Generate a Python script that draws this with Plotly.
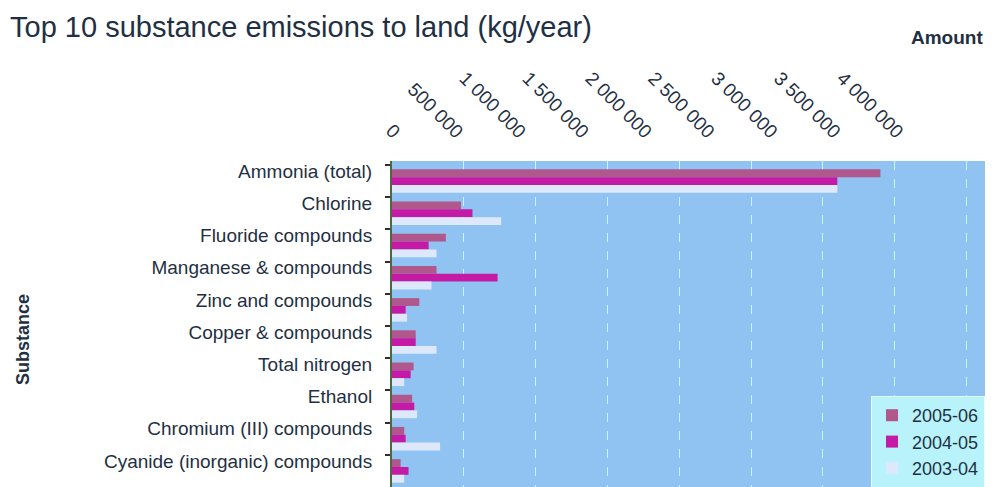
import plotly.graph_objects as go

substances = [
    "Ammonia (total)", "Chlorine", "Fluoride compounds", "Manganese & compounds",
    "Zinc and compounds", "Copper & compounds", "Total nitrogen", "Ethanol",
    "Chromium (III) compounds", "Cyanide (inorganic) compounds",
]
v_2005_06 = [3400000, 480000, 375000, 310000, 190000, 165000, 150000, 140000, 85000, 60000]
v_2004_05 = [3100000, 560000, 255000, 735000, 95000, 165000, 130000, 155000, 95000, 115000]
v_2003_04 = [3100000, 760000, 310000, 275000, 105000, 310000, 85000, 175000, 335000, 85000]

series_names = ["2005-06", "2004-05", "2003-04"]
series_values = [v_2005_06, v_2004_05, v_2003_04]
series_colors = ["#b0588c", "#c41aa6", "#dde9fb"]

tick_vals = [0, 500000, 1000000, 1500000, 2000000, 2500000, 3000000, 3500000, 4000000]
tick_text = ["0", "500 000", "1 000 000", "1 500 000", "2 000 000", "2 500 000",
             "3 000 000", "3 500 000", "4 000 000"]

txt = "#1f3044"
fig = go.Figure()
for name, vals, col in zip(series_names, series_values, series_colors):
    fig.add_trace(go.Bar(y=substances, x=vals, name=name, orientation="h",
                         marker=dict(color=col, line=dict(width=0))))
# invisible anchor trace so the label axis (drawn slightly compressed, as in the source image) exists
fig.add_trace(go.Scatter(x=[tick_vals[0]], y=[substances[0]], xaxis="x2", mode="markers",
                         marker=dict(opacity=0), showlegend=False, hoverinfo="skip"))

W, H = 994, 487
L, R, T, B = 392, 9, 161, 0
pw, ph = W - L - R, H - T - B

fig.update_layout(
    width=W, height=H,
    margin=dict(l=L, r=R, t=T, b=B, pad=0, autoexpand=False),
    paper_bgcolor="white", plot_bgcolor="#90c2f2",
    barmode="group", bargap=0.27, bargroupgap=0,
    font=dict(family="Liberation Sans, Arial, sans-serif", size=17, color=txt),
    title=dict(text="Top 10 substance emissions to land (kg/year)",
               x=10 / W, xanchor="left", xref="container",
               y=1 - 27 / H, yanchor="middle", yref="container",
               font=dict(family="Liberation Sans, Arial, sans-serif",
                         size=29, color=txt)),
    legend=dict(x=1, y=(H - 396) / ph, xanchor="right", yanchor="top",
                bgcolor="#b8f3fb", bordercolor="#e6ffff", borderwidth=1,
                font=dict(size=18, color=txt), itemwidth=30),
    xaxis=dict(range=[0, 4128000], tickvals=tick_vals, showticklabels=False,
               automargin=False, side="top",
               showgrid=True, gridcolor="#c6f6ff", griddash="dash", gridwidth=1,
               zeroline=False, showline=False, ticks=""),
    xaxis2=dict(overlaying="x", side="top", anchor="y", range=[-55600, 4658000],
                tickvals=tick_vals, ticktext=tick_text,
                tickangle=45, tickfont=dict(size=19, color=txt),
                ticklabelstandoff=14, automargin=False,
                showgrid=False, zeroline=False, showline=False, ticks=""),
    yaxis=dict(autorange="reversed", tickson="boundaries", ticks="outside",
               ticklen=5, tickcolor="#3a2a2a", tickwidth=2, automargin=False,
               ticklabelstandoff=14, ticklabelshift=10,
               showline=True, linecolor="#4a6a3a", linewidth=2,
               tickfont=dict(size=19, color=txt), showgrid=False),
    annotations=[
        dict(text="<b>Amount</b>", xref="paper", yref="paper",
             x=1, y=(H - 38) / ph, xanchor="right", yanchor="middle",
             showarrow=False, font=dict(size=19, color=txt)),
        dict(text="<b>Substance</b>", xref="paper", yref="paper",
             x=(23 - L) / pw, y=(H - 340) / ph, xanchor="center", yanchor="middle",
             textangle=-90, showarrow=False, font=dict(size=18, color=txt)),
    ],
)
fig.write_html("out.html", config={"displayModeBar": False},
               post_script="document.body.style.margin='0';")
